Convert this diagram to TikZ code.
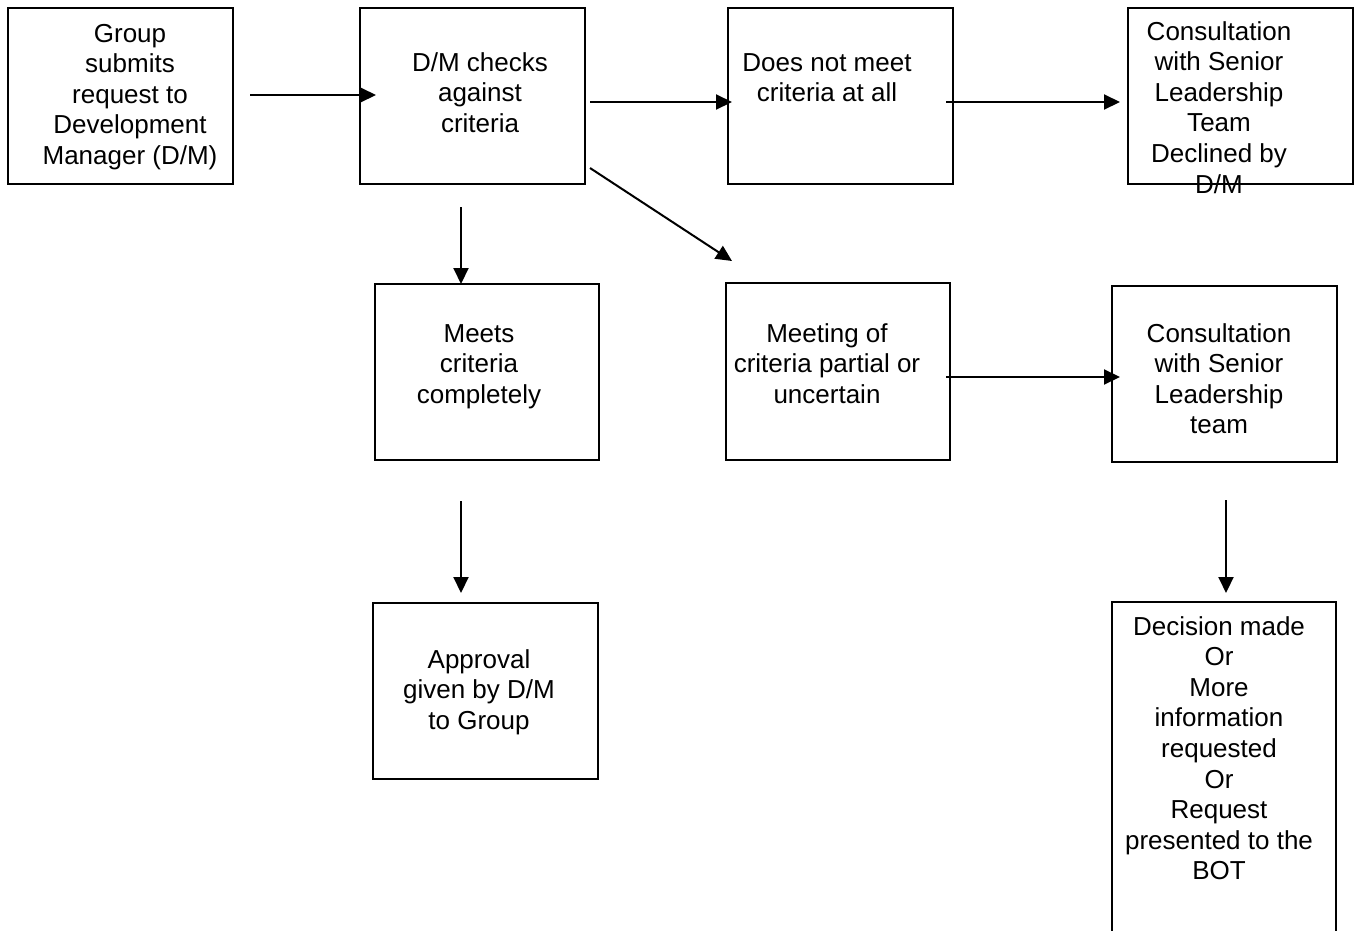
\documentclass[tikz,border=0pt]{standalone}
\usepackage{fontspec}
\setmainfont{Liberation Sans}
\usetikzlibrary{arrows.meta,calc}
\tikzset{
  box/.style={draw=black,line width=2pt,rectangle,inner sep=0pt,minimum width=225pt,minimum height=176pt,fill=none},
  txt/.style={inner sep=0pt,anchor=base,font=\fontsize{26}{30.6}\selectfont},
  arr/.style={line width=2pt,-{Triangle[length=16pt,width=15pt]}}
}
\newcommand{\lines}[1]{\begin{tabular}[t]{@{}c@{}}#1\end{tabular}}
\begin{document}
\begin{tikzpicture}[x=1pt,y=-1pt]
\useasboundingbox (0,0) rectangle (1354,930);
\clip (0,0) rectangle (1354,930);
\fill[white] (0,0) rectangle (1354,930);
% boxes
\node[box] (b1) at (120.5,96) {};
\node[box] (b2) at (472.5,96) {};
\node[box] (b3) at (840.5,96) {};
\node[box] (b4) at (1240.5,96) {};
\node[box,minimum width=224pt] (b5) at (487,372) {};
\node[box,minimum width=224pt,minimum height=177pt] (b6) at (838,371.5) {};
\node[box] (b7) at (1224.5,374) {};
\node[box] (b8) at (485.5,691) {};
\node[box,minimum width=224pt,minimum height=343pt] (b9) at (1224,773.5) {};
% texts
\node[txt] (t1) at (130,42) {\lines{Group\\submits\\request to\\Development\\Manager (D/M)}};
\node[txt] (t2) at (480,71) {\lines{D/M checks\\against\\criteria}};
\node[txt] (t3) at (827,71) {\lines{Does not meet\\criteria at all}};
\node[txt] (t4) at (1219,40) {\lines{Consultation\\with Senior\\Leadership\\Team\\Declined by\\D/M}};
\node[txt] (t5) at (479,342) {\lines{Meets\\criteria\\completely}};
\node[txt] (t6) at (827,342) {\lines{Meeting of\\criteria partial or\\uncertain}};
\node[txt] (t7) at (1219,342) {\lines{Consultation\\with Senior\\Leadership\\team}};
\node[txt] (t8) at (479,668) {\lines{Approval\\given by D/M\\to Group}};
\node[txt] (t9) at (1219,635) {\lines{Decision made\\Or\\More\\information\\requested\\Or\\Request\\presented to the\\BOT}};
% arrows
\draw[arr] ($(b1.east)+(16,-1)$) -- ($(b2.west)+(17,-1)$);
\draw[arr] ($(b2.east)+(4,6)$) -- ($(b3.west)+(5,6)$);
\draw[arr] ($(b3.east)+(-8,6)$) -- ($(b4.west)+(-7,6)$);
\draw[arr] ($(b2.south)+(-11.5,22)$) -- ($(b5.north)+(-26,1)$);
\draw[arr] ($(b2.south east)+(4,-17)$) -- ($(b6.north west)+(7,-21)$);
\draw[arr] ($(b6.east)+(-5,5.5)$) -- ($(b7.west)+(9,3)$);
\draw[arr] ($(b5.south)+(-26,40)$) -- ($(b8.north)+(-24.5,-9)$);
\draw[arr] ($(b7.south)+(1.5,37)$) -- ($(b9.north)+(2,-8)$);
\end{tikzpicture}
\end{document}
